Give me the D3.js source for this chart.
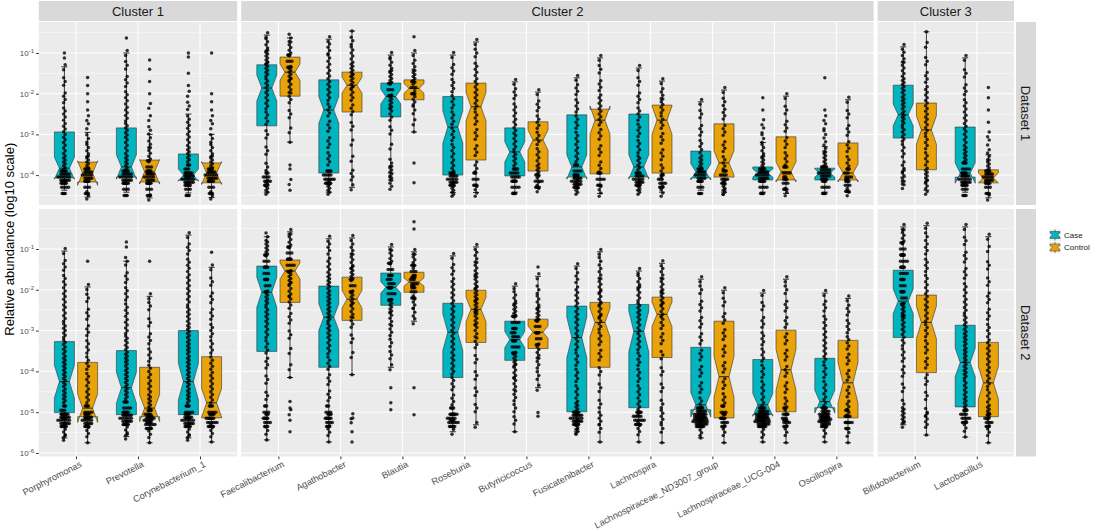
<!DOCTYPE html>
<html>
<head>
<meta charset="utf-8">
<script src="https://cdn.jsdelivr.net/npm/d3@7"></script>
<style>
body { margin: 0; background: #fff; }
svg { display: block; font-family: "Liberation Sans", Arial, sans-serif; }
</style>
</head>
<body>
<svg width="1100" height="531"></svg>
<script>

// categories, per facet column
let cluster1 = ['Porphyromonas', 'Prevotella', 'Corynebacterium_1'];
let cluster2 = ['Faecalibacterium', 'Agathobacter', 'Blautia', 'Roseburia', 'Butyricicoccus',
    'Fusicatenibacter', 'Lachnospira', 'Lachnospiraceae_ND3007_group', 'Lachnospiraceae_UCG-004', 'Oscillospira'];
let cluster3 = ['Bifidobacterium', 'Lactobacillus'];
let categories = cluster1.concat(cluster2, cluster3);
let groups = ['Case', 'Control'];

// y ticks (log10 exponents)
let yTicksD1 = [-1, -2, -3, -4];
let yTicksD2 = [-1, -2, -3, -4, -5, -6];

// box stats, log10 scale: [lower whisker, q1, median, q3, upper whisker, notch half]
let statsD1Case = [
    [-4.37, -4.07, -3.83, -2.94, -1.34, 0.27],
    [-4.42, -4.05, -3.80, -2.84, -1.00, 0.30],
    [-4.44, -4.12, -4.00, -3.48, -2.50, 0.15],
    [-4.42, -2.79, -1.86, -1.29, -0.56, 0.32],
    [-4.42, -3.95, -2.40, -1.66, -0.66, 0.33],
    [-3.95, -2.57, -2.07, -1.74, -1.05, 0.18],
    [-4.43, -4.00, -2.82, -2.07, -1.05, 0.40],
    [-4.42, -4.02, -3.43, -2.84, -1.71, 0.25],
    [-4.32, -4.05, -3.80, -2.52, -1.61, 0.30],
    [-4.37, -4.05, -3.80, -2.50, -1.37, 0.30],
    [-4.37, -4.07, -3.92, -3.41, -2.20, 0.20],
    [-4.42, -4.12, -3.95, -3.80, -3.20, 0.10],
    [-4.42, -4.12, -3.95, -3.83, -3.30, 0.10],
    [-4.05, -3.09, -2.52, -1.79, -0.85, 0.27],
    [-4.42, -4.05, -3.95, -2.82, -1.12, 0.25]
];
let statsD1Control = [
    [-4.54, -4.17, -3.95, -3.68, -2.95, 0.30],
    [-4.56, -4.17, -3.92, -3.63, -3.00, 0.30],
    [-4.55, -4.19, -3.95, -3.70, -3.00, 0.28],
    [-3.19, -2.06, -1.47, -1.10, -0.63, 0.20],
    [-4.30, -2.45, -1.79, -1.47, -0.46, 0.20],
    [-2.94, -2.15, -1.87, -1.66, -1.00, 0.12],
    [-4.43, -3.63, -2.32, -1.74, -0.73, 0.35],
    [-4.29, -3.90, -3.14, -2.69, -1.96, 0.25],
    [-4.45, -3.97, -2.65, -2.38, -1.12, 0.35],
    [-4.42, -3.95, -2.65, -2.28, -1.69, 0.35],
    [-4.42, -4.05, -3.70, -2.74, -1.91, 0.30],
    [-4.45, -4.12, -3.92, -3.06, -2.06, 0.25],
    [-4.42, -4.12, -3.95, -3.21, -2.15, 0.22],
    [-4.37, -3.87, -2.89, -2.23, -0.48, 0.35],
    [-4.56, -4.19, -4.07, -3.87, -3.50, 0.12]
];
let statsD2Case = [
    [-5.63, -5.01, -4.25, -3.27, -1.05, 0.40],
    [-5.60, -5.06, -4.40, -3.49, -1.30, 0.38],
    [-5.63, -5.06, -4.25, -3.00, -0.66, 0.45],
    [-5.68, -3.51, -2.06, -1.42, -0.70, 0.37],
    [-5.73, -3.90, -2.67, -1.91, -0.75, 0.33],
    [-3.90, -2.38, -1.94, -1.59, -0.95, 0.14],
    [-5.48, -4.15, -3.04, -2.33, -1.17, 0.45],
    [-5.48, -3.73, -3.22, -2.77, -1.91, 0.20],
    [-5.48, -4.99, -3.17, -2.40, -1.42, 0.50],
    [-5.73, -4.89, -3.02, -2.36, -1.54, 0.50],
    [-5.63, -4.94, -4.82, -3.41, -1.74, 0.30],
    [-5.73, -5.06, -4.82, -3.71, -2.08, 0.28],
    [-5.73, -4.89, -4.74, -3.68, -2.08, 0.28],
    [-5.31, -3.17, -2.28, -1.52, -0.46, 0.30],
    [-5.61, -4.87, -3.78, -2.87, -0.46, 0.35]
];
let statsD2Control = [
    [-5.75, -5.11, -4.90, -3.78, -1.93, 0.35],
    [-5.75, -5.11, -4.90, -3.90, -2.16, 0.33],
    [-5.73, -5.14, -4.77, -3.64, -1.45, 0.35],
    [-4.15, -2.31, -1.54, -1.27, -0.58, 0.20],
    [-4.08, -2.75, -2.23, -1.69, -0.73, 0.22],
    [-2.77, -2.06, -1.81, -1.57, -1.07, 0.10],
    [-5.31, -3.29, -2.48, -2.01, -0.95, 0.30],
    [-4.40, -3.44, -3.04, -2.72, -1.67, 0.15],
    [-5.73, -3.90, -2.80, -2.31, -1.07, 0.35],
    [-5.75, -3.66, -2.60, -2.18, -1.35, 0.30],
    [-5.75, -5.14, -4.13, -2.77, -2.01, 0.50],
    [-5.75, -4.99, -3.96, -2.99, -1.74, 0.50],
    [-5.75, -5.14, -4.28, -3.24, -2.21, 0.50],
    [-5.56, -4.03, -2.80, -2.13, -0.43, 0.40],
    [-5.75, -5.11, -4.28, -3.29, -0.70, 0.40]
];

// sample points, read as [log10 value, how many points near it]
let ptsD1Case = [
    [[-1.0,1],[-1.12,1],[-1.35,2],[-1.7,3],[-2.1,4],[-2.5,5],[-2.9,6],[-3.3,6],[-3.7,8],[-4.05,30],[-4.3,12]],
    [[-0.63,1],[-1.0,2],[-1.3,3],[-1.7,4],[-2.1,5],[-2.5,6],[-2.9,7],[-3.3,6],[-3.7,8],[-4.05,30],[-4.35,10]],
    [[-1.0,1],[-1.1,1],[-1.5,1],[-1.8,1],[-2.0,2],[-2.3,3],[-2.7,5],[-3.1,6],[-3.5,8],[-3.9,14],[-4.1,30],[-4.35,10]],
    [[-0.56,2],[-0.8,5],[-1.1,8],[-1.4,8],[-1.8,7],[-2.2,6],[-2.6,5],[-3.0,3],[-3.4,3],[-3.8,3],[-4.1,15],[-4.3,8]],
    [[-0.66,2],[-0.9,4],[-1.2,5],[-1.6,6],[-2.0,6],[-2.4,5],[-2.8,4],[-3.2,4],[-3.6,5],[-4.05,22],[-4.3,8]],
    [[-1.05,2],[-1.3,5],[-1.6,8],[-1.9,10],[-2.2,8],[-2.5,5],[-2.9,3],[-3.3,2],[-3.7,3],[-3.95,8],[-4.2,5]],
    [[-1.05,2],[-1.4,4],[-1.8,5],[-2.2,5],[-2.6,5],[-3.0,5],[-3.4,5],[-3.8,6],[-4.1,25],[-4.35,8]],
    [[-1.71,2],[-2.0,4],[-2.4,5],[-2.8,6],[-3.2,6],[-3.6,7],[-4.0,20],[-4.3,12]],
    [[-1.61,2],[-1.9,4],[-2.3,5],[-2.7,5],[-3.1,5],[-3.5,6],[-3.9,12],[-4.15,25],[-4.3,8]],
    [[-1.37,2],[-1.7,3],[-2.1,4],[-2.5,5],[-2.9,5],[-3.3,5],[-3.7,7],[-4.1,25],[-4.3,8]],
    [[-2.2,2],[-2.5,3],[-2.9,4],[-3.3,5],[-3.7,8],[-4.0,25],[-4.3,10]],
    [[-2.1,1],[-2.4,1],[-2.7,2],[-2.9,2],[-3.1,3],[-3.4,5],[-3.7,8],[-4.0,30],[-4.3,12]],
    [[-1.61,1],[-2.4,1],[-2.6,2],[-2.8,2],[-3.0,3],[-3.3,4],[-3.6,8],[-3.95,30],[-4.3,12]],
    [[-0.85,2],[-1.1,4],[-1.4,6],[-1.8,8],[-2.2,8],[-2.6,8],[-3.0,7],[-3.4,5],[-3.8,4],[-4.05,6],[-4.24,3]],
    [[-1.12,2],[-1.5,3],[-1.9,4],[-2.3,5],[-2.7,6],[-3.1,6],[-3.5,8],[-3.85,12],[-4.1,28],[-4.35,10]]
];
let ptsD1Control = [
    [[-1.6,1],[-1.8,1],[-2.0,1],[-2.2,1],[-2.4,1],[-2.6,2],[-2.8,2],[-3.1,3],[-3.4,5],[-3.7,8],[-4.0,25],[-4.3,10],[-4.5,3]],
    [[-1.17,1],[-1.4,1],[-1.7,1],[-2.0,1],[-2.3,2],[-2.6,2],[-2.9,3],[-3.2,4],[-3.5,6],[-3.8,10],[-4.05,25],[-4.35,10],[-4.55,2]],
    [[-1.0,1],[-2.0,1],[-2.2,1],[-2.4,1],[-2.6,2],[-2.8,2],[-3.1,3],[-3.4,5],[-3.7,8],[-4.0,28],[-4.3,10],[-4.5,3]],
    [[-0.63,3],[-0.9,6],[-1.2,10],[-1.5,8],[-1.8,6],[-2.1,4],[-2.5,3],[-2.9,2],[-3.19,1],[-3.75,1],[-3.85,1],[-4.17,2],[-4.37,1]],
    [[-0.46,1],[-0.7,3],[-1.0,5],[-1.4,8],[-1.7,8],[-2.0,6],[-2.4,4],[-2.8,3],[-3.2,2],[-3.6,2],[-4.0,4],[-4.3,2]],
    [[-0.6,1],[-1.0,2],[-1.3,4],[-1.6,8],[-1.85,10],[-2.1,6],[-2.4,3],[-2.7,2],[-2.94,1],[-3.7,1],[-4.19,1]],
    [[-0.73,2],[-1.0,3],[-1.4,5],[-1.8,6],[-2.2,6],[-2.6,5],[-3.0,4],[-3.4,4],[-3.8,4],[-4.1,10],[-4.4,4]],
    [[-1.96,2],[-2.3,4],[-2.7,5],[-3.1,5],[-3.5,5],[-3.9,8],[-4.15,12],[-4.29,4]],
    [[-1.12,2],[-1.4,3],[-1.8,4],[-2.2,6],[-2.6,6],[-3.0,4],[-3.4,4],[-3.8,4],[-4.1,12],[-4.4,4]],
    [[-1.69,2],[-2.0,4],[-2.3,6],[-2.7,5],[-3.1,4],[-3.5,4],[-3.9,5],[-4.15,14],[-4.4,4]],
    [[-1.91,2],[-2.2,3],[-2.5,4],[-2.9,4],[-3.3,4],[-3.7,5],[-4.05,16],[-4.3,8],[-4.42,2]],
    [[-2.06,2],[-2.4,3],[-2.8,4],[-3.2,4],[-3.6,5],[-3.95,12],[-4.2,10],[-4.42,3]],
    [[-2.15,2],[-2.5,3],[-2.9,4],[-3.3,4],[-3.7,5],[-4.0,14],[-4.25,10],[-4.42,3]],
    [[-0.48,1],[-0.8,2],[-1.2,3],[-1.6,4],[-2.0,6],[-2.4,6],[-2.8,6],[-3.2,5],[-3.6,5],[-4.0,8],[-4.3,6]],
    [[-1.85,1],[-2.1,1],[-2.4,1],[-2.7,1],[-3.0,2],[-3.2,2],[-3.5,4],[-3.8,8],[-4.05,25],[-4.3,10],[-4.55,2]]
];
let ptsD2Case = [
    [[-1.05,2],[-1.4,4],[-1.8,5],[-2.2,6],[-2.6,6],[-3.0,7],[-3.4,7],[-3.8,8],[-4.2,8],[-4.6,8],[-5.0,14],[-5.2,30],[-5.45,6],[-5.63,2]],
    [[-0.83,1],[-0.95,1],[-1.3,3],[-1.7,4],[-2.1,5],[-2.5,5],[-2.9,6],[-3.3,7],[-3.7,8],[-4.1,8],[-4.5,8],[-4.9,12],[-5.15,30],[-5.4,6],[-5.6,2]],
    [[-0.66,2],[-1.0,4],[-1.4,5],[-1.8,6],[-2.2,6],[-2.6,7],[-3.0,8],[-3.4,8],[-3.8,8],[-4.2,8],[-4.6,8],[-5.0,12],[-5.2,28],[-5.45,6],[-5.63,2]],
    [[-0.7,3],[-1.0,8],[-1.3,10],[-1.6,10],[-1.9,9],[-2.2,8],[-2.6,7],[-3.0,6],[-3.4,5],[-3.8,4],[-4.2,3],[-4.6,3],[-5.0,10],[-5.2,14],[-5.45,3],[-5.68,1]],
    [[-0.75,2],[-1.0,4],[-1.4,6],[-1.8,8],[-2.2,8],[-2.6,8],[-3.0,7],[-3.4,6],[-3.8,5],[-4.2,4],[-4.6,4],[-5.0,10],[-5.2,16],[-5.45,4],[-5.73,1]],
    [[-0.95,2],[-1.2,6],[-1.5,10],[-1.8,14],[-2.1,12],[-2.4,8],[-2.7,5],[-3.0,4],[-3.3,3],[-3.6,3],[-3.9,2],[-4.4,1],[-4.77,1],[-4.94,1]],
    [[-1.17,2],[-1.5,4],[-1.9,6],[-2.3,6],[-2.7,6],[-3.1,6],[-3.5,6],[-3.9,6],[-4.3,5],[-4.7,4],[-5.05,12],[-5.2,22],[-5.48,2]],
    [[-1.91,2],[-2.2,5],[-2.5,8],[-2.8,12],[-3.1,14],[-3.4,12],[-3.7,8],[-4.0,6],[-4.3,5],[-4.6,4],[-4.9,3],[-5.2,3],[-5.48,1]],
    [[-1.42,2],[-1.7,4],[-2.1,6],[-2.5,6],[-2.9,6],[-3.3,6],[-3.7,5],[-4.1,5],[-4.5,5],[-4.9,8],[-5.15,30],[-5.35,8],[-5.48,2]],
    [[-1.54,2],[-1.8,5],[-2.1,6],[-2.5,7],[-2.9,6],[-3.3,6],[-3.7,5],[-4.1,5],[-4.5,5],[-4.9,6],[-5.15,22],[-5.4,5],[-5.73,1]],
    [[-1.74,2],[-2.0,3],[-2.4,4],[-2.8,4],[-3.2,4],[-3.6,4],[-4.0,4],[-4.4,4],[-4.8,5],[-5.05,30],[-5.2,45],[-5.4,6],[-5.63,1]],
    [[-2.08,2],[-2.4,3],[-2.8,4],[-3.2,5],[-3.6,5],[-4.0,5],[-4.4,5],[-4.8,6],[-5.05,30],[-5.2,45],[-5.45,6],[-5.73,1]],
    [[-2.08,2],[-2.4,4],[-2.8,5],[-3.2,6],[-3.6,6],[-4.0,5],[-4.4,5],[-4.8,6],[-5.05,25],[-5.2,35],[-5.45,5],[-5.73,1]],
    [[-0.46,2],[-0.7,6],[-1.0,10],[-1.3,12],[-1.6,12],[-1.9,10],[-2.2,9],[-2.5,8],[-2.8,7],[-3.2,6],[-3.6,5],[-4.0,4],[-4.4,3],[-4.8,3],[-5.1,8],[-5.31,2]],
    [[-0.46,2],[-0.8,3],[-1.2,4],[-1.6,4],[-2.0,5],[-2.4,6],[-2.8,7],[-3.2,8],[-3.6,8],[-4.0,8],[-4.4,7],[-4.8,8],[-5.1,18],[-5.35,4],[-5.61,1]]
];
let ptsD2Control = [
    [[-1.3,1],[-1.93,2],[-2.2,3],[-2.6,4],[-3.0,4],[-3.4,5],[-3.8,5],[-4.2,5],[-4.6,6],[-5.0,12],[-5.2,25],[-5.45,5],[-5.75,1]],
    [[-1.3,1],[-2.16,2],[-2.4,3],[-2.8,3],[-3.2,4],[-3.6,5],[-4.0,5],[-4.4,6],[-4.8,8],[-5.1,18],[-5.25,22],[-5.5,4],[-5.75,1]],
    [[-1.08,1],[-1.45,2],[-1.8,3],[-2.2,4],[-2.6,4],[-3.0,5],[-3.4,5],[-3.8,5],[-4.2,6],[-4.6,6],[-5.0,12],[-5.2,22],[-5.45,5],[-5.73,1]],
    [[-0.58,2],[-0.8,6],[-1.1,10],[-1.4,12],[-1.7,8],[-2.0,6],[-2.3,5],[-2.7,4],[-3.1,3],[-3.5,2],[-3.9,2],[-4.15,1],[-4.74,1],[-4.9,1],[-5.0,2],[-5.2,1],[-5.48,1]],
    [[-0.73,2],[-1.0,4],[-1.3,6],[-1.6,8],[-1.9,9],[-2.2,8],[-2.5,6],[-2.8,4],[-3.2,3],[-3.6,2],[-4.08,1],[-5.1,2],[-5.2,2],[-5.48,1],[-5.73,1]],
    [[-0.33,1],[-0.51,1],[-1.07,2],[-1.3,6],[-1.55,10],[-1.8,14],[-2.05,10],[-2.3,5],[-2.55,3],[-2.77,2],[-4.4,1],[-5.06,1]],
    [[-0.95,2],[-1.2,4],[-1.5,6],[-1.8,7],[-2.1,8],[-2.4,8],[-2.7,7],[-3.0,5],[-3.3,4],[-3.7,3],[-4.1,3],[-4.5,3],[-4.9,3],[-5.31,2]],
    [[-1.44,1],[-1.67,2],[-2.0,3],[-2.3,5],[-2.6,8],[-2.9,10],[-3.2,9],[-3.5,6],[-3.8,4],[-4.1,3],[-4.4,2],[-5.01,1],[-5.1,1]],
    [[-1.07,2],[-1.3,3],[-1.6,4],[-1.9,6],[-2.2,6],[-2.5,6],[-2.8,6],[-3.2,5],[-3.6,4],[-4.0,3],[-4.4,3],[-4.8,3],[-5.15,5],[-5.4,3],[-5.73,1]],
    [[-1.35,2],[-1.6,4],[-1.9,6],[-2.2,7],[-2.5,6],[-2.8,5],[-3.2,4],[-3.6,3],[-4.0,3],[-4.4,3],[-4.8,3],[-5.1,5],[-5.4,3],[-5.75,1]],
    [[-2.01,2],[-2.3,3],[-2.7,4],[-3.1,4],[-3.5,4],[-3.9,4],[-4.3,4],[-4.7,5],[-5.0,10],[-5.2,14],[-5.45,4],[-5.75,1]],
    [[-1.74,2],[-2.0,3],[-2.4,4],[-2.8,4],[-3.2,4],[-3.6,4],[-4.0,4],[-4.4,4],[-4.8,5],[-5.05,10],[-5.2,14],[-5.45,4],[-5.75,1]],
    [[-2.21,2],[-2.5,4],[-2.9,5],[-3.3,5],[-3.7,4],[-4.1,4],[-4.5,4],[-4.9,6],[-5.1,10],[-5.25,12],[-5.5,3],[-5.75,1]],
    [[-0.43,2],[-0.7,3],[-1.0,4],[-1.4,5],[-1.8,5],[-2.2,6],[-2.6,6],[-3.0,5],[-3.4,5],[-3.8,4],[-4.2,4],[-4.6,3],[-5.0,3],[-5.2,6],[-5.56,1]],
    [[-0.7,2],[-1.0,2],[-1.4,3],[-1.8,3],[-2.2,4],[-2.6,4],[-3.0,5],[-3.4,6],[-3.8,6],[-4.2,6],[-4.6,5],[-5.0,8],[-5.2,14],[-5.45,4],[-5.75,1]]
];


let svg = d3.select('svg');
let color = d3.scaleOrdinal().domain(groups).range(['#00B4C0', '#E8A20A']);

let step = 62, gap = 4, left = 38.8;
let clusters = [
    { name: 'Cluster 1', cats: cluster1 },
    { name: 'Cluster 2', cats: cluster2 },
    { name: 'Cluster 3', cats: cluster3 }
];
// facet columns, width follows number of categories (space = "free")
let x0 = left;
clusters.forEach(c => {
    let w = (c.cats.length + 0.2) * step;
    c.x = d3.scalePoint().domain(c.cats).range([x0, x0 + w]).padding(0.6);
    c.x0 = x0; c.x1 = x0 + w;
    x0 += w + gap;
});
let rightEdge = x0 - gap;

let rows = [
    { name: 'Dataset 1', y0: 22, y1: 205, dom: [-4.735, -0.238], ticks: yTicksD1,
      stats: [statsD1Case, statsD1Control], pts: [ptsD1Case, ptsD1Control] },
    { name: 'Dataset 2', y0: 209, y1: 456.5, dom: [-6.086, -0.02], ticks: yTicksD2,
      stats: [statsD2Case, statsD2Control], pts: [ptsD2Case, ptsD2Control] }
];
rows.forEach(r => {
    r.y = d3.scaleLog().domain([10 ** r.dom[0], 10 ** r.dom[1]]).range([r.y1, r.y0]);
});

let dodge = 11.6, halfW = 10;

// one notched box like ggplot draws it
function boxPath(cx, s, y) {
    let [lo, q1, med, q3, hi, nh] = s;
    let yy = v => y(10 ** v);
    let xl = cx - halfW, xr = cx + halfW, nl = cx - halfW / 2, nr = cx + halfW / 2;
    let p = [[xl, yy(q3)], [xl, yy(med + nh)], [nl, yy(med)], [xl, yy(med - nh)], [xl, yy(q1)],
             [xr, yy(q1)], [xr, yy(med - nh)], [nr, yy(med)], [xr, yy(med + nh)], [xr, yy(q3)]];
    return 'M' + p.map(d => d.join(',')).join('L') + 'Z';
}

// lay out the n points of one level as a small swarm around cx
function swarm(cx, v, n) {
    let out = [];
    if (n <= 8) {
        for (let k = 0; k < n; k++) {
            let t = n > 1 ? k / (n - 1) - 0.5 : 0;
            out.push({ x: cx + (n > 1 ? (k % 2 ? 0.8 : -0.8) : 0), v: v + t * Math.min(0.34, 0.06 * n) });
        }
        return out;
    }
    let m = Math.ceil(Math.sqrt(n) * 0.85);
    let cols = Math.ceil(n / m);
    for (let k = 0; k < n; k++) {
        let row = k % m, col = Math.floor(k / m);
        let t = m > 1 ? row / (m - 1) - 0.5 : 0;
        let shrink = 1 - Math.abs(t) * 1.1;
        let dx = (col - (cols - 1) / 2) * 2.3 * shrink + (row % 2 ? 0.7 : -0.7);
        out.push({ x: cx + dx, v: v + t * 0.3 });
    }
    return out;
}

rows.forEach(r => {
    clusters.forEach(c => {
        let g = svg.append('g');
        g.append('rect')
            .attr('x', c.x0).attr('y', r.y0)
            .attr('width', c.x1 - c.x0).attr('height', r.y1 - r.y0)
            .attr('fill', '#EBEBEB');

        // grid
        let minor = [];
        for (let e = Math.ceil(r.dom[0] * 2) / 2; e <= r.dom[1]; e += 0.5) {
            if (!Number.isInteger(e)) minor.push(e);
        }
        g.selectAll('.minor').data(minor).enter().append('line')
            .attr('x1', c.x0).attr('x2', c.x1)
            .attr('y1', d => r.y(10 ** d)).attr('y2', d => r.y(10 ** d))
            .attr('stroke', '#fff').attr('stroke-width', 0.5);
        g.selectAll('.major').data(r.ticks).enter().append('line')
            .attr('x1', c.x0).attr('x2', c.x1)
            .attr('y1', d => r.y(10 ** d)).attr('y2', d => r.y(10 ** d))
            .attr('stroke', '#fff').attr('stroke-width', 1);
        g.selectAll('.vmajor').data(c.cats).enter().append('line')
            .attr('x1', d => c.x(d)).attr('x2', d => c.x(d))
            .attr('y1', r.y0).attr('y2', r.y1)
            .attr('stroke', '#fff').attr('stroke-width', 1);

        // boxes
        groups.forEach((grp, gi) => {
            c.cats.forEach(cat => {
                let i = categories.indexOf(cat);
                let s = r.stats[gi][i];
                let cx = c.x(cat) + (gi === 0 ? -dodge : dodge);
                let yy = v => r.y(10 ** v);
                let b = g.append('g');
                b.append('line').attr('x1', cx).attr('x2', cx)
                    .attr('y1', yy(s[0])).attr('y2', yy(s[4]))
                    .attr('stroke', '#111').attr('stroke-width', 0.8);
                [s[0], s[4]].forEach(v => {
                    b.append('line').attr('x1', cx - 3).attr('x2', cx + 3)
                        .attr('y1', yy(v)).attr('y2', yy(v))
                        .attr('stroke', '#111').attr('stroke-width', 0.9);
                });
                b.append('path').attr('d', boxPath(cx, s, r.y))
                    .attr('fill', color(grp)).attr('stroke', '#333').attr('stroke-width', 0.6);
                b.append('line').attr('x1', cx - halfW / 2).attr('x2', cx + halfW / 2)
                    .attr('y1', yy(s[2])).attr('y2', yy(s[2]))
                    .attr('stroke', '#222').attr('stroke-width', 1);
            });
        });

        // points on top
        groups.forEach((grp, gi) => {
            c.cats.forEach(cat => {
                let i = categories.indexOf(cat);
                let cx = c.x(cat) + (gi === 0 ? -dodge : dodge);
                let dots = [];
                r.pts[gi][i].forEach(([v, n]) => { dots = dots.concat(swarm(cx, v, n)); });
                g.selectAll(null).data(dots).enter().append('circle')
                    .attr('cx', d => d.x).attr('cy', d => r.y(10 ** d.v))
                    .attr('r', 1.75).attr('fill', '#000').attr('fill-opacity', 0.8);
            });
        });
    });

    // right strip
    svg.append('rect').attr('x', rightEdge + 2).attr('y', r.y0)
        .attr('width', 20).attr('height', r.y1 - r.y0).attr('fill', '#D9D9D9');
    svg.append('text')
        .attr('transform', 'translate(' + (rightEdge + 12) + ',' + ((r.y0 + r.y1) / 2) + ') rotate(90)')
        .attr('text-anchor', 'middle').attr('dy', '0.35em')
        .attr('font-size', 13).attr('fill', '#1A1A1A').text(r.name);

    // y axis on the first column
    let ax = svg.append('g').attr('transform', 'translate(' + clusters[0].x0 + ',0)')
        .call(d3.axisLeft(r.y).tickValues(r.ticks.map(e => 10 ** e)).tickSize(2.7).tickPadding(2)
            .tickFormat(d => Math.round(Math.log10(d))));
    ax.select('.domain').remove();
    ax.selectAll('line').attr('stroke', '#333');
    ax.selectAll('text').each(function () {
        let t = d3.select(this);
        let e = t.text();
        t.text('').attr('fill', '#4D4D4D').attr('font-size', 8).attr('font-family', null);
        t.append('tspan').text('10');
        t.append('tspan').attr('dy', '-0.45em').attr('font-size', 6).text(e);
    });
});

// top strips
clusters.forEach(c => {
    svg.append('rect').attr('x', c.x0).attr('y', 1)
        .attr('width', c.x1 - c.x0).attr('height', 20).attr('fill', '#D9D9D9');
    svg.append('text').attr('x', (c.x0 + c.x1) / 2).attr('y', 11).attr('dy', '0.35em')
        .attr('text-anchor', 'middle').attr('font-size', 13).attr('fill', '#1A1A1A').text(c.name);
});

// x axes under the bottom row
let bottom = rows[1];
clusters.forEach(c => {
    let ax = svg.append('g').attr('transform', 'translate(0,' + bottom.y1 + ')')
        .call(d3.axisBottom(c.x).tickSize(2.7).tickPadding(0));
    ax.select('.domain').remove();
    ax.selectAll('line').attr('stroke', '#333');
    ax.selectAll('text')
        .attr('font-size', 9.2).attr('font-family', null).attr('fill', '#4D4D4D')
        .attr('text-anchor', 'end').attr('y', 0).attr('dy', '0.7em')
        .attr('transform', 'translate(3,4) rotate(-27)');
});

// y title
svg.append('text')
    .attr('transform', 'translate(9,' + ((rows[0].y0 + rows[1].y1) / 2) + ') rotate(-90)')
    .attr('text-anchor', 'middle').attr('dy', '0.35em')
    .attr('font-size', 13).attr('fill', '#000')
    .text('Relative abundance (log10 scale)');

// legend
groups.forEach((grp, i) => {
    let ky = 229 + i * 12.5;
    let kx = 1049;
    let lg = svg.append('g');
    lg.append('rect').attr('x', kx).attr('y', ky).attr('width', 12).attr('height', 12).attr('fill', '#F2F2F2');
    lg.append('line').attr('x1', kx + 6).attr('x2', kx + 6).attr('y1', ky + 0.5).attr('y2', ky + 11.5)
        .attr('stroke', '#222').attr('stroke-width', 0.6);
    let p = [[kx + 1, ky + 2.5], [kx + 1, ky + 4], [kx + 3.5, ky + 6], [kx + 1, ky + 8], [kx + 1, ky + 9.5],
             [kx + 11, ky + 9.5], [kx + 11, ky + 8], [kx + 8.5, ky + 6], [kx + 11, ky + 4], [kx + 11, ky + 2.5]];
    lg.append('path').attr('d', 'M' + p.map(d => d.join(',')).join('L') + 'Z')
        .attr('fill', color(grp)).attr('stroke', '#333').attr('stroke-width', 0.5);
    lg.append('text').attr('x', kx + 15).attr('y', ky + 6).attr('dy', '0.35em')
        .attr('font-size', 8).attr('fill', '#1A1A1A').text(grp);
});

</script>
</body>
</html>
